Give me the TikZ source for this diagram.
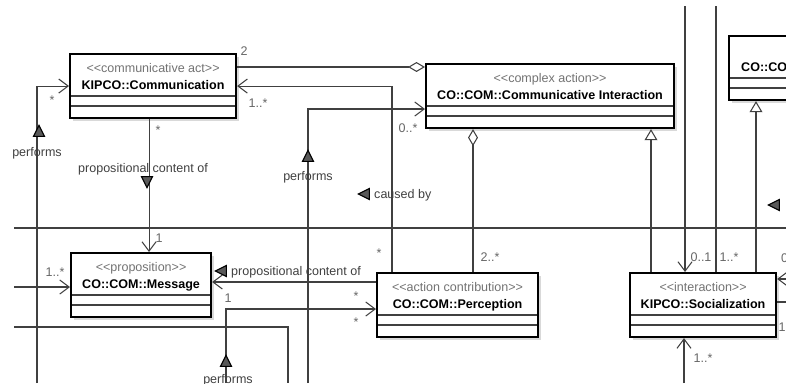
\documentclass[tikz,border=0pt]{standalone}
\usepackage{fontspec}
\setmainfont{Liberation Sans}
\usetikzlibrary{positioning,calc,arrows.meta,shadows,shapes.geometric}
\tikzset{>={Straight Barb[length=8pt,width=12pt]}}
\newcommand{\pxu}{0.03cm}
\newcommand{\stereo}[1]{\textcolor{black!55}{<{}<#1>{}>}}

\begin{document}
\begin{tikzpicture}[
    x=\pxu, y=-\pxu,
    font=\fontsize{10.7}{14.5}\selectfont,
    cls/.style={draw, line width=1.8pt, fill=white, anchor=north west,
        minimum width=#1*\pxu, minimum height=64*\pxu, inner sep=0pt,
        drop shadow={shadow xshift=0.09cm, shadow yshift=-0.09cm, fill=black!15, opacity=1},
        path picture={
            \draw[black!75, line width=1pt]
                ([yshift=-42*\pxu]path picture bounding box.north west) -- ([yshift=-42*\pxu]path picture bounding box.north east)
                ([yshift=-52*\pxu]path picture bounding box.north west) -- ([yshift=-52*\pxu]path picture bounding box.north east);
        }},
    ttl/.style={align=center, inner sep=0pt, anchor=north},
    lbl/.style={inner sep=0pt, text=black!75},
    mult/.style={inner sep=0pt, text=black!60},
    plain/.style={draw=black!75, line width=0.9pt},
    assoc/.style={plain, ->},
    aggr/.style={plain, -{Diamond[open, length=14.5pt, width=8.5pt]}},
    gen/.style={plain, -{Triangle[open, length=9.5pt, width=11pt]}},
    dirtri/.style={isosceles triangle, isosceles triangle stretches, fill=black!65, draw=black,
        line width=0.9pt, inner sep=0pt, minimum width=11*\pxu, minimum height=11*\pxu}
]
\useasboundingbox (0,0) rectangle (786,383);
\clip (0,0) rectangle (786,383);

% classes
\node[cls=166] (comm) at (69,53) {};
\node[ttl, below=0.3cm of comm.north] (comm-t) {\stereo{communicative act}\\\textbf{KIPCO::Communication}};
\node[cls=248] (inter) at (425,63) {};
\node[ttl, below=0.3cm of inter.north] (inter-t) {\stereo{complex action}\\\textbf{CO::COM::Communicative Interaction}};
\node[cls=100] (coco) at (728,35) {};
\node[anchor=base west, inner sep=0pt] (coco-t) at ($(coco.north west)+(13,36)$) {\textbf{CO::CO}};
\node[cls=140] (msg) at (70,252) {};
\node[ttl, below=0.3cm of msg.north] (msg-t) {\stereo{proposition}\\\textbf{CO::COM::Message}};
\node[cls=161] (perc) at (376,272) {};
\node[ttl, below=0.3cm of perc.north] (perc-t) {\stereo{action contribution}\\\textbf{CO::COM::Perception}};
\node[cls=146] (soc) at (629,272) {};
\node[ttl, below=0.3cm of soc.north] (soc-t) {\stereo{interaction}\\\textbf{KIPCO::Socialization}};

% connectors
\coordinate (j0) at (37,383);
\draw[assoc] (j0) |- (comm.west);
\coordinate (b1) at ($(comm.north east)+(0,14)$);
\draw[aggr] (b1) -- (b1 -| inter.west);
\coordinate (c1) at ($(perc.north west)+(16,0)$);
\draw[assoc] (c1) |- (comm.east);
\coordinate (a1) at ($(comm.south)+(-4,0)$);
\draw[assoc] (a1) -- (a1 |- msg.north);
\coordinate (d0) at (308,383);
\coordinate (d1) at ($(inter.north west)+(0,46)$);
\draw[assoc] (d0) |- (d1);
\coordinate (e1) at ($(perc.north west)+(97,0)$);
\draw[aggr] (e1) -- (e1 |- inter.south);
\coordinate (f1) at ($(perc.north west)+(0,10)$);
\draw[assoc] (f1) -- (f1 -| msg.east);
\coordinate (g0) at (226,383);
\coordinate (g1) at ($(perc.north west)+(0,37)$);
\draw[assoc] (g0) |- (g1);
\coordinate (h0) at (14,327);
\coordinate (h1) at (288,383);
\draw[plain] (h0) -| (h1);
\coordinate (i0) at (14,287);
\draw[assoc] (i0) -- (i0 -| msg.west);
\coordinate (k0) at (14,228);
\coordinate (k1) at (786,228);
\draw[plain] (k0) -- (k1);
\coordinate (l1) at ($(soc.north west)+(22,0)$);
\draw[gen] (l1) -- (l1 |- inter.south);
\coordinate (m0) at (685,6);
\draw[assoc] (m0) -- (m0 |- soc.north);
\coordinate (n0) at (716,6);
\draw[plain] (n0) -- (n0 |- soc.north);
\coordinate (o1) at ($(soc.north west)+(127,0)$);
\draw[gen] (o1) -- (o1 |- coco.south);
\coordinate (p0) at (786,279);
\draw[assoc] (p0) -- (p0 -| soc.east);
\coordinate (q0) at (786,302);
\draw[plain] (q0) -- (q0 -| soc.east);
\coordinate (r0) at (684,383);
\draw[assoc] (r0) -- (r0 |- soc.south);

% role labels
\node[dirtri, shape border rotate=90] (t-pf1) at (39,133) {};
\node[lbl] (l-pf1) at (37,153) {performs};
\node[dirtri, shape border rotate=270] (t-pc1) at (147,180) {};
\node[lbl] (l-pc1) at (143,169) {propositional content of};
\node[dirtri, shape border rotate=90] (t-pf2) at (308,158) {};
\node[lbl] (l-pf2) at (308,177) {performs};
\node[dirtri, shape border rotate=180] (t-cb) at (366,194) {};
\node[lbl, anchor=west] (l-cb) at (374,195) {caused by};
\node[dirtri, shape border rotate=180] (t-pc2) at (223,271) {};
\node[lbl, anchor=west] (l-pc2) at (231,272) {propositional content of};
\node[dirtri, shape border rotate=90] (t-pf3) at (226,363) {};
\node[lbl] (l-pf3) at (228,380) {performs};
\node[dirtri, shape border rotate=180] (t-soc) at (776,205) {};

% multiplicities
\node[mult] (m-b) at (244,51) {2};
\node[mult] (m-c) at (258,103) {1..*};
\node[mult] (m-a) at (158,130) {*};
\node[mult] (m-a2) at (159,238) {1};
\node[mult] (m-j) at (52,100) {*};
\node[mult] (m-i) at (55,272) {1..*};
\node[mult] (m-f) at (228,298) {1};
\node[mult] (m-c2) at (379,253) {*};
\node[mult] (m-d) at (408,128) {0..*};
\node[mult] (m-e) at (490,257) {2..*};
\node[mult] (m-f2) at (356,296) {*};
\node[mult] (m-g) at (356,322) {*};
\node[mult] (m-m) at (701,257) {0..1};
\node[mult] (m-n) at (729,257) {1..*};
\node[mult, anchor=west] (m-p) at (781,258) {0};
\node[mult] (m-q) at (782,327) {1};
\node[mult] (m-r) at (703,358) {1..*};
\end{tikzpicture}
\end{document}
